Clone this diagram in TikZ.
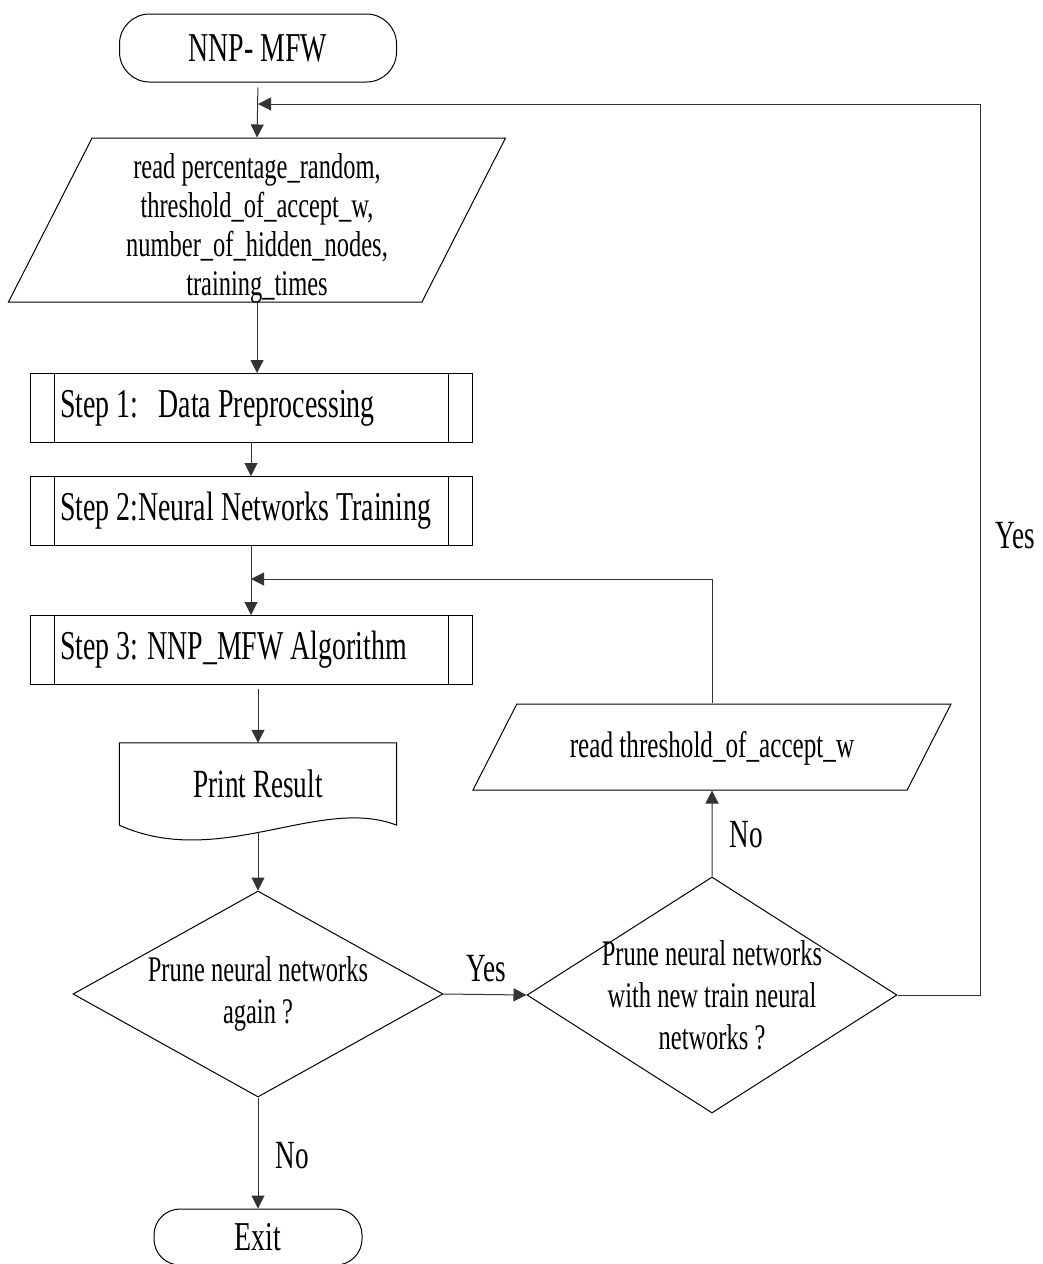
\documentclass[tikz,border=0pt]{standalone}
\usepackage{fontspec}
\setmainfont{Liberation Serif}[FakeStretch=0.68]
\usetikzlibrary{arrows.meta}
\usetikzlibrary{positioning}
\usetikzlibrary{shapes.geometric}
\newcommand*{\steptxt}[1]{\makebox[382pt][l]{#1}}
\tikzset{
    box/.style = {draw,line width=1pt},
    term/.style = {box,rounded corners=30pt,font=\fontsize{41}{48}\selectfont},
    io/.style = {box,shape=trapezium,trapezium left angle=63,trapezium right angle=117,
        trapezium stretches body,inner sep=0,align=center},
    subproc/.style = {box,minimum width=442,minimum height=69,inner xsep=30,
        font=\fontsize{41}{48}\selectfont,
        path picture={\draw[line width=1pt]
            ([xshift=24pt]path picture bounding box.north west) -- ([xshift=24pt]path picture bounding box.south west)
            ([xshift=-24pt]path picture bounding box.north east) -- ([xshift=-24pt]path picture bounding box.south east);}},
    decision/.style = {box,shape=diamond,inner sep=-40pt,minimum width=370,align=center,
        font=\fontsize{36}{42}\selectfont},
    lbl/.style = {inner sep=0,font=\fontsize{40}{48}\selectfont}
}
\tikzset{
    flow/.style = {draw=black!80,line width=1pt,-{Triangle[length=13pt,width=13pt]}}
}

\begin{document}
\begin{tikzpicture}[x=1pt,y=-1pt]
        \useasboundingbox (0,0) rectangle (1042,1264);
        % Main column
        \path node[term,minimum width=277,minimum height=68] (start) at (258,48) {NNP- MFW}
        ;
        \path node[io,minimum width=497,minimum height=164,text height=157,text depth=7,
                font=\fontsize{36}{39}\selectfont]
            (readin) at (257,220)
            {read percentage\_random,\\threshold\_of\_accept\_w,\\number\_of\_hidden\_nodes,\\training\_times}
        ;
        \path node[subproc] (stepa) at (251,408) {\steptxt{Step 1:\enspace Data Preprocessing}}
            node[subproc,below=33pt of stepa] (stepb) {\steptxt{Step 2:Neural Networks Training}}
            node[subproc,below=69pt of stepb] (stepc) {\steptxt{Step 3: NNP\_MFW Algorithm}}
        ;
        \path node[minimum width=277,minimum height=82,inner sep=0,font=\fontsize{40}{48}\selectfont]
            (res) at (258,784) {Print Result}
        ;
        \path node[decision,minimum height=206] (again) at (258,994) {Prune neural networks\\again ?}
            node[term,minimum width=208,minimum height=56,rounded corners=26pt] (stop) at (258,1237) {Exit}
        ;
        % Retry column
        \path node[decision,minimum height=236] (retrain) at (712,995)
                {Prune neural networks\\with new train neural\\networks ?}
            node[io,minimum width=478,minimum height=86,text height=53,text depth=33,
                    font=\fontsize{37}{44}\selectfont]
                (readw) at (712,747) {read threshold\_of\_accept\_w}
        ;
        % Document outline
        \draw[box] (res.south west) -- (res.north west) -- (res.north east) -- (res.south east)
            .. controls +(-77,-30) and +(100,45) .. (res.south west);
        % Joins
        \path (258,104) coordinate (jointop)
            (980,104) coordinate (rtop)
            (251,579) coordinate (jointhr)
        ;
        % Labels
        \path node[lbl] (yesa) at (486,969) {Yes}
            node[lbl] (noa) at (292,1156) {No}
            node[lbl] (nob) at (746,835) {No}
            node[lbl] (yesb) at (1015,536) {Yes}
        ;
        % Flow
        \draw[flow,shorten <=5pt] (start.south) -- (readin.north);
        \draw[flow] (readin.south) -- (readin.south |- stepa.north);
        \foreach \src/\dest in {stepa/stepb,stepb/stepc}
            \draw[flow] (\src.south) -- (\dest.north);
        \draw[flow,shorten <=4pt] (stepc.south -| res.north) -- (res.north);
        \draw[flow,shorten <=7pt] (res.south) -- (again.north);
        \draw[flow] (again.east) -- (retrain.west);
        \draw[flow] (again.south) -- (stop.north);
        \draw[flow] (retrain.north) -- (readw.south);
        \draw[flow] (readw.north) |- (jointhr);
        \draw[flow] (retrain.east) -| (rtop) -- (jointop);
\end{tikzpicture}
\end{document}
